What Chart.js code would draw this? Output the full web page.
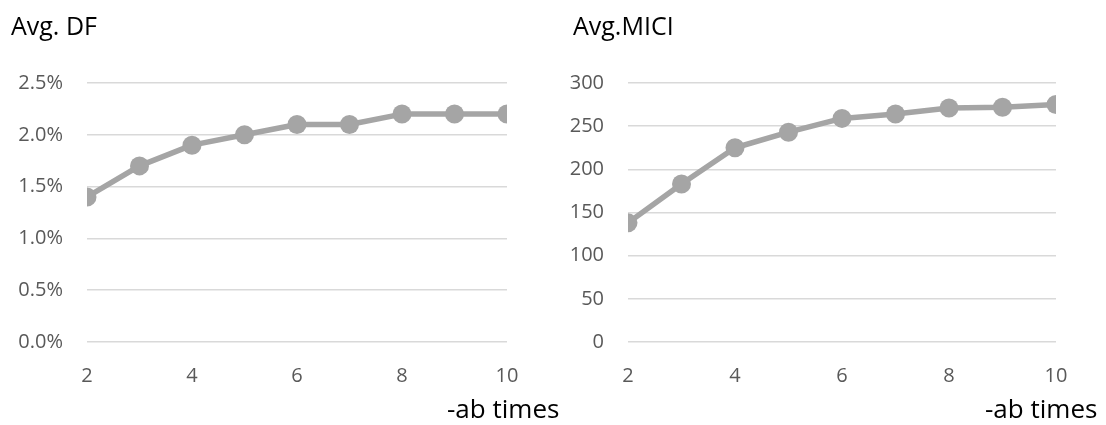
<!DOCTYPE html>
<html>
<head>
<meta charset="utf-8">
<script src="https://cdn.jsdelivr.net/npm/chart.js@4.4.1/dist/chart.umd.min.js"></script>
<style>
  html, body { margin: 0; padding: 0; background: #fff; }
  body { width: 1106px; height: 425px; position: relative; overflow: hidden; font-family: "Open Sans", sans-serif; }
  .panel { position: absolute; top: 0; height: 425px; }
  .title { position: absolute; font-size: 25px; color: #000; line-height: 1; white-space: nowrap; }
  .xname { position: absolute; font-size: 26px; color: #000; line-height: 1; white-space: nowrap; }
</style>
</head>
<body>
<div class="panel" style="left:0;width:553px;"><canvas id="dfChart" width="553" height="425"></canvas></div>
<div class="panel" style="left:553px;width:553px;"><canvas id="miciChart" width="553" height="425"></canvas></div>
<div class="title" style="left:11px;top:13px;">Avg. DF</div>
<div class="title" style="left:573px;top:13px;">Avg.MICI</div>
<div class="xname" style="left:447px;top:395px;">-ab times</div>
<div class="xname" style="left:985px;top:395px;">-ab times</div>
<script>
// Number of -ab runs on the x axis
const abTimes = [2, 3, 4, 5, 6, 7, 8, 9, 10];
// Average DF, in percent
const avgDF = [1.4, 1.7, 1.9, 2.0, 2.1, 2.1, 2.2, 2.2, 2.2];
// Average MICI
const avgMICI = [138, 183, 225, 243, 259, 264, 271, 272, 275];
// Y tick settings
const dfTicks = { min: 0, max: 2.5, step: 0.5 };
const miciTicks = { min: 0, max: 300, step: 50 };

const LINE = '#a5a5a5';
const GRID = '#d9d9d9';
const TICK = '#595959';
const FONT = { family: '"Open Sans", sans-serif', size: 20 };

function makeChart(id, values, yt, yFormat, area) {
  const points = abTimes.map((x, i) => ({ x: x, y: values[i] }));
  return new Chart(document.getElementById(id), {
    type: 'line',
    data: {
      datasets: [{
        data: points,
        borderColor: LINE,
        backgroundColor: LINE,
        borderWidth: 5.5,
        borderJoinStyle: 'round',
        borderCapStyle: 'round',
        pointRadius: 9.5,
        pointBorderWidth: 0,
        pointBackgroundColor: LINE,
        tension: 0
      }]
    },
    options: {
      responsive: false,
      animation: false,
      events: [],
      layout: { padding: { top: area.top, right: area.right, bottom: 0, left: 0 } },
      plugins: { legend: { display: false }, tooltip: { enabled: false }, title: { display: false } },
      scales: {
        x: {
          type: 'linear',
          min: 2, max: 10,
          grid: { display: false, drawTicks: false },
          border: { display: false },
          ticks: { stepSize: 2, color: TICK, font: FONT, padding: area.xPad, maxRotation: 0 },
          afterFit: s => { s.height = area.xHeight; }
        },
        y: {
          min: yt.min, max: yt.max,
          grid: { color: GRID, lineWidth: 1.5, drawTicks: false },
          border: { display: false },
          ticks: { stepSize: yt.step, color: TICK, font: FONT, padding: 24, callback: yFormat },
          afterFit: s => { s.width = area.left; }
        }
      }
    }
  });
}

makeChart('dfChart', avgDF, dfTicks, v => v.toFixed(1) + '%',
  { top: 83, right: 46, left: 87, xHeight: 83, xPad: 22 });
makeChart('miciChart', avgMICI, miciTicks, v => String(v),
  { top: 83, right: 50, left: 75, xHeight: 83, xPad: 22 });
</script>
</body>
</html>
